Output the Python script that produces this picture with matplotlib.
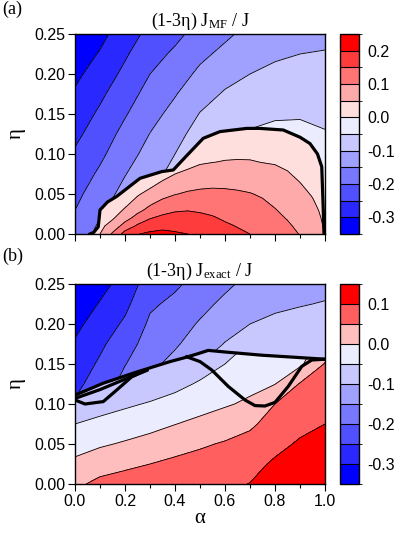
import numpy as np
import matplotlib
matplotlib.use('Agg')
import matplotlib.pyplot as plt
from matplotlib.colors import ListedColormap, BoundaryNorm
from matplotlib.patches import Polygon
from matplotlib.cm import ScalarMappable

plt.rcParams['font.family'] = ['Liberation Sans', 'DejaVu Sans']
plt.rcParams['mathtext.fontset'] = 'stix'
plt.rcParams['contour.negative_linestyle'] = 'solid'

# ---- grids (alpha across, eta up) ----
alpha_10 = [0.0, 0.1, 0.2, 0.3, 0.4, 0.5, 0.6, 0.7, 0.8, 0.9, 1.0]
eta_outer = [0.0, 0.025, 0.05, 0.075, 0.1, 0.125, 0.15, 0.175, 0.2, 0.225, 0.25]
alpha_20 = [0.0, 0.05, 0.1, 0.15, 0.2, 0.25, 0.3, 0.35, 0.4, 0.45, 0.5,
            0.55, 0.6, 0.65, 0.7, 0.75, 0.8, 0.85, 0.9, 0.95, 1.0]
eta_dome = [0.0, 0.01, 0.02, 0.03, 0.05, 0.07, 0.09, 0.11, 0.13, 0.15]
eta_low = [0.0, 0.025, 0.05, 0.075, 0.1, 0.125, 0.15, 0.175]

# (a) mean-field, region outside the thick boundary (one list per alpha column)
mf_outer_cols = [
    [-0.181, -0.197, -0.213, -0.228, -0.244, -0.261, -0.277, -0.294, -0.311, -0.327, -0.344],
    [-0.135, -0.154, -0.173, -0.192, -0.21, -0.226, -0.242, -0.259, -0.277, -0.296, -0.314],
    [-0.1, -0.117, -0.135, -0.152, -0.169, -0.186, -0.204, -0.221, -0.239, -0.256, -0.274],
    [-0.073, -0.088, -0.103, -0.118, -0.134, -0.149, -0.166, -0.183, -0.2, -0.218, -0.236],
    [-0.04, -0.055, -0.07, -0.085, -0.1, -0.118, -0.135, -0.153, -0.173, -0.192, -0.212],
    [0.0, -0.011, -0.025, -0.04, -0.058, -0.078, -0.098, -0.119, -0.14, -0.161, -0.182],
    [0.002, -0.01, -0.021, -0.032, -0.043, -0.058, -0.076, -0.095, -0.116, -0.138, -0.159],
    [0.005, -0.004, -0.014, -0.024, -0.034, -0.046, -0.062, -0.081, -0.1, -0.118, -0.136],
    [0.01, 0.0, -0.01, -0.02, -0.032, -0.042, -0.054, -0.071, -0.089, -0.107, -0.125],
    [-0.005, -0.01, -0.015, -0.022, -0.032, -0.042, -0.053, -0.069, -0.085, -0.1, -0.116],
    [-0.01, -0.015, -0.02, -0.028, -0.036, -0.047, -0.06, -0.0725, -0.085, -0.0975, -0.11],
]

# (a) mean-field, inside the dome
mf_dome_cols = [
    [-0.05, -0.062, -0.074, -0.086, -0.11, -0.134, -0.158, -0.182, -0.206, -0.23],
    [0.0, -0.012, -0.024, -0.036, -0.06, -0.084, -0.108, -0.132, -0.156, -0.18],
    [0.05, 0.037, 0.023, 0.01, -0.017, -0.043, -0.07, -0.097, -0.123, -0.15],
    [0.107, 0.071, 0.044, 0.029, 0.0, -0.03, -0.06, -0.09, -0.12, -0.15],
    [0.17, 0.119, 0.082, 0.055, 0.019, -0.013, -0.043, -0.073, -0.103, -0.133],
    [0.198, 0.158, 0.117, 0.087, 0.044, 0.005, -0.025, -0.055, -0.085, -0.115],
    [0.209, 0.178, 0.147, 0.113, 0.067, 0.018, -0.016, -0.046, -0.076, -0.106],
    [0.213, 0.187, 0.161, 0.133, 0.085, 0.043, -0.003, -0.033, -0.063, -0.093],
    [0.206, 0.186, 0.166, 0.145, 0.098, 0.06, 0.02, -0.02, -0.06, -0.1],
    [0.2, 0.183, 0.166, 0.148, 0.106, 0.07, 0.033, -0.002, -0.032, -0.062],
    [0.19, 0.175, 0.16, 0.145, 0.11, 0.077, 0.045, 0.021, -0.008, -0.038],
    [0.18, 0.167, 0.154, 0.14, 0.111, 0.081, 0.049, 0.029, 0.006, -0.024],
    [0.17, 0.157, 0.144, 0.133, 0.109, 0.082, 0.052, 0.033, 0.013, -0.017],
    [0.158, 0.148, 0.1375, 0.127, 0.106, 0.081, 0.053, 0.034, 0.016, -0.013],
    [0.15, 0.14, 0.131, 0.121, 0.102, 0.0775, 0.0525, 0.034, 0.017, -0.012],
    [0.14, 0.131, 0.123, 0.114, 0.095, 0.072, 0.049, 0.033, 0.017, -0.012],
    [0.125, 0.117, 0.11, 0.102, 0.084, 0.065, 0.047, 0.031, 0.016, -0.013],
    [0.115, 0.106, 0.0975, 0.089, 0.073, 0.0565, 0.042, 0.028, 0.014, -0.016],
    [0.098, 0.0905, 0.083, 0.0755, 0.0605, 0.046, 0.034, 0.0215, 0.0015, -0.028],
    [0.08, 0.073, 0.067, 0.06, 0.047, 0.036, 0.025, 0.012, -0.018, -0.048],
    [0.048, 0.045, 0.042, 0.039, 0.033, 0.027, 0.02, 0.01, -0.01, -0.04],
]

# (a) thick boundary of the dome
mf_edge_alpha = [0.06, 0.075, 0.093, 0.1, 0.13, 0.167, 0.26, 0.347, 0.393, 0.45, 0.513,
                 0.58, 0.687, 0.74, 0.833, 0.9, 0.94, 0.97, 0.987, 0.992, 0.996]
mf_edge_eta = [0.0, 0.002, 0.009, 0.03, 0.04, 0.047, 0.0696, 0.078, 0.08, 0.099, 0.1196,
               0.128, 0.132, 0.132, 0.13, 0.121, 0.113, 0.1, 0.084, 0.04, 0.0]

# (b) exact, above the upper thick line
ex_outer_cols = [
    [-0.178, -0.195, -0.211, -0.228, -0.245, -0.261, -0.278, -0.295, -0.312, -0.328, -0.345],
    [-0.162, -0.176, -0.189, -0.203, -0.216, -0.23, -0.243, -0.259, -0.278, -0.297, -0.315],
    [-0.082, -0.102, -0.122, -0.142, -0.162, -0.182, -0.202, -0.222, -0.242, -0.262, -0.282],
    [-0.08, -0.094, -0.108, -0.122, -0.136, -0.15, -0.164, -0.178, -0.192, -0.207, -0.223],
    [-0.004, -0.024, -0.044, -0.064, -0.084, -0.106, -0.133, -0.157, -0.173, -0.19, -0.207],
    [0.02, 0.0, -0.02, -0.04, -0.06, -0.08, -0.1, -0.123, -0.145, -0.165, -0.184],
    [0.025, 0.007, -0.01, -0.028, -0.045, -0.063, -0.08, -0.098, -0.118, -0.139, -0.16],
    [0.03, 0.015, 0.0, -0.015, -0.03, -0.049, -0.066, -0.083, -0.1, -0.118, -0.136],
    [0.023, 0.009, -0.006, -0.02, -0.035, -0.049, -0.064, -0.078, -0.092, -0.107, -0.121],
    [0.022, 0.008, -0.006, -0.02, -0.033, -0.047, -0.061, -0.075, -0.088, -0.102, -0.115],
    [0.03, 0.015, 0.0, -0.015, -0.029, -0.043, -0.057, -0.071, -0.085, -0.098, -0.11],
]

# (b) exact, below the upper thick line
ex_low_cols = [
    [0.04, 0.01, -0.018, -0.05, -0.08, -0.11, -0.14, -0.17],
    [0.0625, 0.028, -0.006, -0.0385, -0.068, -0.095, -0.125, -0.155],
    [0.073, 0.039, 0.005, -0.026, -0.0575, -0.085, -0.115, -0.145],
    [0.08, 0.05, 0.017, -0.015, -0.046, -0.078, -0.1, -0.13],
    [0.085, 0.0615, 0.0295, -0.001, -0.033, -0.063, -0.09, -0.115],
    [0.09, 0.068, 0.0436, 0.0115, -0.0174, -0.0446, -0.072, -0.1],
    [0.092, 0.073, 0.0545, 0.025, -0.005, -0.028, -0.05, -0.072],
    [0.101, 0.087, 0.066, 0.042, 0.008, -0.0127, -0.03, -0.047],
    [0.12, 0.106, 0.0885, 0.069, 0.05, -0.001, -0.017, -0.034],
    [0.13, 0.117, 0.105, 0.089, 0.071, 0.0535, -0.009, -0.025],
    [0.14, 0.127, 0.114, 0.1, 0.085, 0.069, 0.053, 0.02],
]

# (b) thick lines
ex_top_alpha = [0.0, 0.113, 0.247, 0.38, 0.44, 0.493, 0.533, 0.6, 0.747, 0.9, 1.0]
ex_top_eta = [0.111, 0.126, 0.14, 0.153, 0.158, 0.163, 0.167, 0.165, 0.161, 0.158, 0.156]
ex_inner_alpha = [0.0, 0.1, 0.2, 0.287]
ex_inner_eta = [0.107, 0.118, 0.131, 0.142]
ex_loop1_alpha = [0.0, 0.04, 0.113, 0.167, 0.227, 0.287]
ex_loop1_eta = [0.105, 0.1, 0.103, 0.1175, 0.134, 0.1425]
ex_loop2_alpha = [0.447, 0.5, 0.547, 0.613, 0.68, 0.72, 0.76, 0.8, 0.853, 0.907, 0.947, 1.0]
ex_loop2_eta = [0.159, 0.153, 0.1425, 0.122, 0.105, 0.098, 0.0975, 0.102, 0.122, 0.147, 0.155, 0.156]

levels_a = [-0.35, -0.3, -0.25, -0.2, -0.15, -0.1, -0.05, 0.0, 0.05, 0.1, 0.15, 0.2, 0.25]
levels_b = [-0.35, -0.3, -0.25, -0.2, -0.15, -0.1, -0.05, 0.0, 0.05, 0.1, 0.15]

blues = ['#0000ff', '#2828ff', '#5050ff', '#7878ff', '#a0a0ff', '#c8c8ff', '#ececff']
reds_a = ['#ffdede', '#ffaaaa', '#ff7474', '#ff3c3c', '#ff0000']
reds_b = ['#ffbebe', '#ff5f5f', '#ff0000']

fig = plt.figure(figsize=(4.1, 5.34), dpi=100)
ax_a = fig.add_axes([75/410, 1-234/534, 250/410, 200/534])
ax_b = fig.add_axes([75/410, 1-484/534, 250/410, 200/534])
cax_a = fig.add_axes([340/410, 1-234/534, 19/410, 200/534])
cax_b = fig.add_axes([340/410, 1-484/534, 19/410, 200/534])


def draw_panel(ax, cax, levels, colors, outer_a, outer_e, outer_cols,
               in_a, in_e, in_cols, clip_x, clip_y):
    cmap = ListedColormap(colors)
    norm = BoundaryNorm(levels, cmap.N)
    z_out = np.array(outer_cols).T
    ax.contourf(outer_a, outer_e, z_out, levels=levels, cmap=cmap, norm=norm, zorder=1)
    ax.contour(outer_a, outer_e, z_out, levels=levels, colors='k', linewidths=0.6, zorder=1.1)
    clip = Polygon(np.column_stack([clip_x, clip_y]), closed=True,
                   transform=ax.transData, facecolor='none', edgecolor='none')
    ax.add_patch(clip)
    z_in = np.array(in_cols).T
    cf = ax.contourf(in_a, in_e, z_in, levels=levels, cmap=cmap, norm=norm, zorder=1.2)
    cf.set_clip_path(clip)
    cl = ax.contour(in_a, in_e, z_in, levels=levels, colors='k', linewidths=0.6, zorder=1.3)
    cl.set_clip_path(clip)

    ax.set_xlim(0, 1)
    ax.set_ylim(0, 0.25)
    ax.set_xticks([0.0, 0.2, 0.4, 0.6, 0.8, 1.0])
    ax.set_xticks([0.1, 0.3, 0.5, 0.7, 0.9], minor=True)
    ax.set_yticks([0.0, 0.05, 0.1, 0.15, 0.2, 0.25])
    ax.set_yticklabels(['0.00', '0.05', '0.10', '0.15', '0.20', '0.25'])
    ax.tick_params(direction='out', length=5, width=0.8, labelsize=11.5, pad=2)
    ax.tick_params(which='minor', direction='out', length=3, width=0.8)
    ax.set_ylabel('η', fontsize=15, family=['Liberation Serif', 'DejaVu Serif'], labelpad=6)
    for s in ax.spines.values():
        s.set_linewidth(1.0)
        s.set_zorder(4)

    sm = ScalarMappable(norm=norm, cmap=cmap)
    cb = fig.colorbar(sm, cax=cax, drawedges=True)
    cb.dividers.set_linewidth(0.8)
    cb.outline.set_linewidth(1.0)
    ticks = [-0.3, -0.2, -0.1, 0.0, 0.1, 0.2]
    ticks = [t for t in ticks if t < levels[-1]]
    cb.set_ticks(ticks)
    cb.set_ticklabels(['%.1f' % t for t in ticks])
    cax.tick_params(length=0, labelsize=11.5, pad=6)


draw_panel(ax_a, cax_a, levels_a, blues + reds_a, alpha_10, eta_outer, mf_outer_cols,
           alpha_20, eta_dome, mf_dome_cols, mf_edge_alpha, mf_edge_eta)
ax_a.plot(mf_edge_alpha, mf_edge_eta, color='k', lw=2.3, solid_joinstyle='round', zorder=3)
ax_a.set_xticklabels([])

clip_b_x = ex_top_alpha + [1.0, 0.0]
clip_b_y = ex_top_eta + [0.0, 0.0]
draw_panel(ax_b, cax_b, levels_b, blues + reds_b, alpha_10, eta_outer, ex_outer_cols,
           alpha_10, eta_low, ex_low_cols, clip_b_x, clip_b_y)
for xs, ys in [(ex_top_alpha, ex_top_eta), (ex_inner_alpha, ex_inner_eta),
               (ex_loop1_alpha, ex_loop1_eta), (ex_loop2_alpha, ex_loop2_eta)]:
    ax_b.plot(xs, ys, color='k', lw=2.3, solid_joinstyle='round', zorder=3)
ax_b.set_xticklabels(['0.0', '0.2', '0.4', '0.6', '0.8', '1.0'])
ax_b.set_xlabel('α', fontsize=15, family=['Liberation Serif', 'DejaVu Serif'], labelpad=0)

serif = ['Liberation Serif', 'DejaVu Serif']
fig.text(200/410, 1-26/534, r'(1-3η) J$_{\mathregular{MF}}$ / J', fontsize=13,
         family=serif, ha='center', va='baseline')
fig.text(200/410, 1-276/534, r'(1-3η) J$_{\mathregular{exact}}$ / J', fontsize=13,
         family=serif, ha='center', va='baseline')
fig.text(0.005, 1-1/534, '(a)', fontsize=13, family=serif, va='top')
fig.text(0.005, 1-248/534, '(b)', fontsize=13, family=serif, va='top')

fig.savefig('out.png', dpi=100)
